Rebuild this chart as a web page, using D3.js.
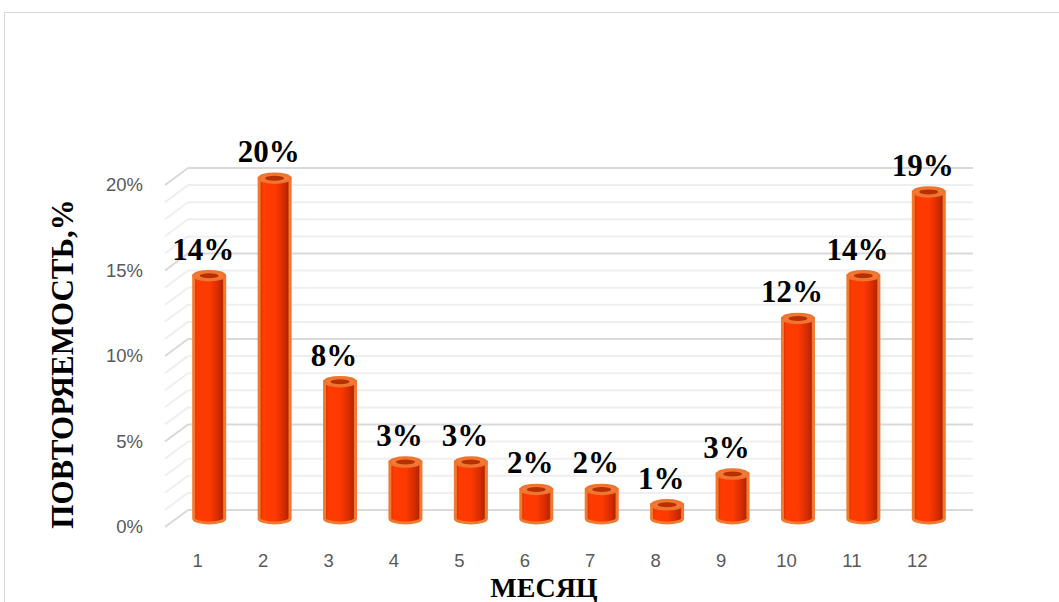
<!DOCTYPE html>
<html>
<head>
<meta charset="utf-8">
<script src="https://cdn.jsdelivr.net/npm/d3@7"></script>
<style>
  html, body { margin: 0; padding: 0; background: #fff; }
  svg { display: block; }
</style>
</head>
<body>
<svg id="chart" width="1059" height="602"></svg>
<script>
// Monthly repeatability (share of cases per month)
const months = ["1", "2", "3", "4", "5", "6", "7", "8", "9", "10", "11", "12"];
const repeatability = [0.142, 0.199, 0.080, 0.033, 0.033, 0.017, 0.017, 0.008, 0.026, 0.117, 0.142, 0.191];
const yTicks = [0, 0.05, 0.10, 0.15, 0.20];
const minorTicks = d3.range(0, 21).map(d => d / 100);
const yTitle = "ПОВТОРЯЕМОСТЬ,%";
const xTitle = "МЕСЯЦ";

const svg = d3.select("#chart");
const W = 1059, H = 602;

// Oblique depth of the 3D plot box
const depthX = 23, depthY = 17;
const plotLeft = 165, plotRight = 950;
const y = d3.scaleLinear().domain([0, 0.20]).range([527, 185]);
const x = d3.scaleBand().domain(months).range([plotLeft, plotRight]).paddingInner(0);
const fmt = d3.format(".0%");

// Chart area frame
svg.append("rect")
  .attr("x", 4.5).attr("y", 12.5)
  .attr("width", W + 20).attr("height", H + 20)
  .attr("fill", "#fff").attr("stroke", "#d9d9d9").attr("stroke-width", 1);

// Back wall gridlines and side-wall diagonals
const grid = svg.append("g");
minorTicks.forEach(t => {
  const major = Math.round(t * 100) % 5 === 0;
  const col = major ? "#d9d9d9" : "#efefef";
  const yf = y(t), yb = y(t) - depthY;
  grid.append("line")
    .attr("x1", plotLeft + depthX).attr("x2", plotRight + depthX)
    .attr("y1", yb).attr("y2", yb)
    .attr("stroke", col).attr("stroke-width", 2);
  grid.append("line")
    .attr("x1", plotLeft).attr("y1", yf)
    .attr("x2", plotLeft + depthX).attr("y2", yb)
    .attr("stroke", col).attr("stroke-width", 2);
});

// Y axis tick labels
svg.append("g").selectAll("text").data(yTicks).join("text")
  .attr("x", 143).attr("y", d => y(d))
  .attr("dy", "0.35em")
  .attr("text-anchor", "end")
  .attr("font-family", "'Liberation Sans', Arial, sans-serif")
  .attr("font-size", 18.5)
  .attr("fill", "#595959")
  .text(d => fmt(d));

// X axis tick labels (front edge of each category)
svg.append("g").selectAll("text").data(months).join("text")
  .attr("x", d => x(d) + x.bandwidth() / 2)
  .attr("y", 567)
  .attr("text-anchor", "middle")
  .attr("font-family", "'Liberation Sans', Arial, sans-serif")
  .attr("font-size", 18.5)
  .attr("fill", "#595959")
  .text(d => d);

// Cylinder shading
const defs = svg.append("defs");
const grad = defs.append("linearGradient").attr("id", "cyl").attr("x1", "0").attr("x2", "1").attr("y1", "0").attr("y2", "0");
[[0, "#c43000"], [0.12, "#ff3b00"], [0.5, "#ff3a00"], [0.8, "#d42c00"], [0.92, "#b82400"], [1, "#d8501c"]]
  .forEach(([o, c]) => grad.append("stop").attr("offset", o).attr("stop-color", c));

const rx = 15.5, ry = 4.5;
const bars = months.map((m, i) => ({ m, v: repeatability[i] }));
const cx = d => x(d.m) + x.bandwidth() / 2 + depthX / 2;
const yMid = v => y(v) - depthY / 2;

const barG = svg.append("g").selectAll("g").data(bars).join("g");
barG.append("path")
  .attr("d", d => {
    const c = cx(d), yt = yMid(d.v), yb = yMid(0);
    return `M${c - rx},${yt} L${c - rx},${yb} A${rx},${ry} 0 0 0 ${c + rx},${yb} L${c + rx},${yt} Z`;
  })
  .attr("fill", "url(#cyl)")
  .attr("stroke", "#f07a30").attr("stroke-width", 3);
barG.append("ellipse")
  .attr("cx", cx).attr("cy", d => yMid(d.v))
  .attr("rx", rx).attr("ry", ry)
  .attr("fill", "#f27a35").attr("stroke", "#ee7430").attr("stroke-width", 2.5);
barG.append("ellipse")
  .attr("cx", cx).attr("cy", d => yMid(d.v))
  .attr("rx", rx - 6).attr("ry", ry - 2)
  .attr("fill", "#b83000");

// Value labels
barG.append("text")
  .attr("x", d => cx(d) - 6)
  .attr("y", d => yMid(d.v) - 16)
  .attr("text-anchor", "middle")
  .attr("font-family", "'Liberation Serif', 'Times New Roman', serif")
  .attr("font-weight", "bold")
  .attr("font-size", 31)
  .attr("fill", "#000")
  .text(d => fmt(d.v));

// Axis titles
svg.append("text")
  .attr("transform", "translate(73,364) rotate(-90)")
  .attr("text-anchor", "middle")
  .attr("font-family", "'Liberation Serif', 'Times New Roman', serif")
  .attr("font-weight", "bold")
  .attr("font-size", 31)
  .attr("fill", "#000")
  .text(yTitle);

svg.append("text")
  .attr("x", 544).attr("y", 597)
  .attr("text-anchor", "middle")
  .attr("font-family", "'Liberation Serif', 'Times New Roman', serif")
  .attr("font-weight", "bold")
  .attr("font-size", 28)
  .attr("fill", "#000")
  .text(xTitle);
</script>
</body>
</html>
